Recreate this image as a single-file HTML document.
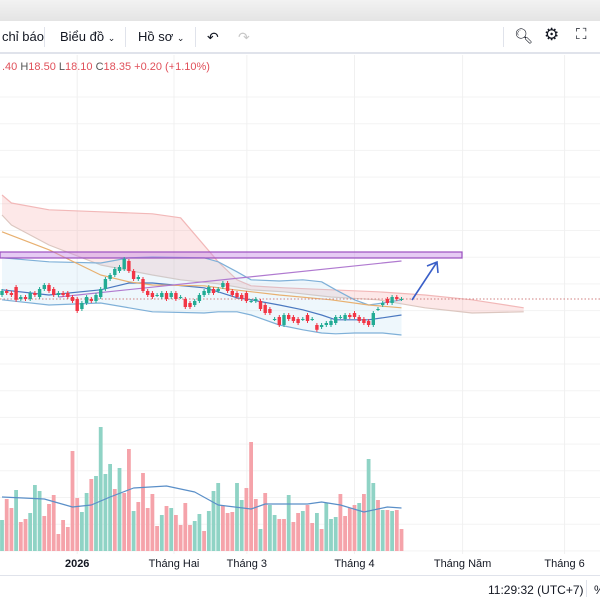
<!DOCTYPE html>
<html><head><meta charset="utf-8"><style>
body{margin:0;width:600px;height:600px;overflow:hidden;background:#fff;font-family:"Liberation Sans","Noto Sans CJK SC",sans-serif}
#topbar{position:absolute;left:0;top:0;width:600px;height:21px;background:linear-gradient(#f2f2f2,#e4e4e4)}
#toolbar{position:absolute;left:0;top:21px;width:600px;height:31px;background:#fff;border-bottom:2px solid #e0e3eb;font-size:13px;color:#131722}
.tb{position:absolute;top:8px}
.sep{position:absolute;top:6px;width:1px;height:20px;background:#e0e3eb}
#legend{position:absolute;left:2px;top:61px;font-size:11px;color:#555}
#legend span{color:#e0505a}
#bottom{position:absolute;left:0;top:575px;width:600px;height:25px;border-top:1px solid #e0e3eb;font-size:12px;color:#131722}
</style></head><body>
<div id="topbar"></div>
<div id="toolbar">
<span class="tb" style="left:2px">chỉ báo</span>
<div class="sep" style="left:44px"></div>
<span class="tb" style="left:60px">Biểu đồ <small style="font-size:9px">⌄</small></span>
<div class="sep" style="left:125px"></div>
<span class="tb" style="left:138px">Hồ sơ <small style="font-size:9px">⌄</small></span>
<div class="sep" style="left:195px"></div>
<span class="tb" style="left:207px;font-size:14px">↶</span>
<span class="tb" style="left:238px;font-size:14px;color:#c8c8c8">↷</span>
<div class="sep" style="left:503px"></div>
<span class="tb" style="left:514px;font-size:15px;top:6px">🔍︎</span>
<span class="tb" style="left:544px;font-size:17px;top:4px">⚙︎</span>
<span class="tb" style="left:576px;font-size:15px;top:5px">⛶</span>
</div>
<div id="legend"><span>.40</span> H<span>18.50</span> L<span>18.10</span> C<span>18.35</span> <span>+0.20 (+1.10%)</span></div>
<svg id="chart" width="600" height="520" style="position:absolute;left:0;top:55px" viewBox="0 55 600 520"></svg>
<div id="bottom">
<span style="position:absolute;left:488px;top:7px">11:29:32 (UTC+7)</span>
<div style="position:absolute;left:586px;top:4px;width:1px;height:17px;background:#e0e3eb"></div>
<span style="position:absolute;left:594px;top:7px">%</span>
</div>
<script>
const opens=[18.45,18.55,18.5,18.65,18.35,18.4,18.35,18.5,18.4,18.6,18.7,18.6,18.45,18.5,18.5,18.4,18.35,18.1,18.25,18.35,18.3,18.4,18.6,18.85,18.95,19.05,19.1,19.3,19.05,18.85,18.85,18.55,18.5,18.45,18.4,18.5,18.4,18.5,18.4,18.35,18.25,18.2,18.3,18.45,18.5,18.6,18.55,18.65,18.75,18.55,18.5,18.45,18.5,18.3,18.3,18.3,18.2,18.1,17.85,17.9,17.7,17.95,17.9,17.85,17.85,17.95,17.85,17.7,17.65,17.7,17.7,17.75,17.9,17.85,17.95,18.0,17.9,17.85,17.8,17.7,18.1,18.2,18.35,18.25,18.4,18.35];
const closes=[18.55,18.5,18.45,18.33,18.4,18.35,18.5,18.45,18.6,18.7,18.55,18.45,18.5,18.45,18.4,18.3,18.05,18.25,18.4,18.3,18.45,18.6,18.85,18.95,19.1,19.15,19.35,19.05,18.85,18.9,18.55,18.45,18.4,18.45,18.5,18.35,18.5,18.35,18.4,18.15,18.15,18.3,18.45,18.55,18.65,18.5,18.6,18.75,18.55,18.45,18.4,18.35,18.3,18.3,18.35,18.1,18.0,18.0,17.85,17.7,17.95,17.85,17.8,17.75,17.85,17.8,17.85,17.58,17.7,17.75,17.8,17.9,17.9,17.95,17.9,17.9,17.8,17.75,17.7,18.0,18.1,18.25,18.25,18.4,18.35,18.35];
const volumes=[31,52,43,61,29,32,38,66,60,35,47,56,17,31,24,100,53,39,58,72,75,124,77,87,62,83,58,102,40,49,78,43,57,25,36,45,43,36,26,48,26,30,37,20,40,60,68,45,38,39,68,51,63,109,52,22,58,46,36,32,32,56,29,38,40,46,28,38,22,48,32,34,57,35,43,46,48,57,92,68,51,41,41,40,41,22];
const volUp=[1,0,0,1,0,0,1,1,1,0,0,0,0,0,0,0,0,1,1,0,1,1,1,1,0,1,0,0,1,0,0,0,0,0,1,0,1,0,0,0,0,1,1,0,1,1,1,0,0,0,1,1,0,0,0,1,0,1,1,0,0,1,0,0,1,0,0,1,0,1,1,1,0,0,0,0,1,0,1,1,0,1,0,1,0,0];
const bbIdx=[0,10,21,27,32,43,46,50,53,59,64,68,71,75,78,81,85];
const bbUpper=[19.38,19.28,19.25,19.38,19.4,19.38,19.28,19.03,18.83,18.8,18.83,18.78,18.58,18.33,18.2,18.25,18.33];
const bbMid=[18.58,18.45,18.58,18.75,18.75,18.63,18.53,18.38,18.33,18.2,18.08,17.95,17.83,17.83,17.83,17.88,17.95];
const bbLower=[18.33,18.2,18.25,18.13,18.03,18.0,18.03,18.03,17.95,17.7,17.58,17.5,17.48,17.5,17.5,17.5,17.45];
const cloudIdx=[0,2,10,21,32,38,42,46,50,53,60,70,80,90,100,111];
const spanA=[20.95,20.75,20.58,20.53,20.48,20.38,19.83,19.28,18.83,18.68,18.63,18.58,18.53,18.45,18.33,18.13];
const spanB=[20.45,20.2,19.7,19.2,18.95,18.83,18.78,18.73,18.65,18.58,18.53,18.4,18.33,18.13,18.0,18.03];
const maIdx=[0,10,21,27,32,43,48,59,70,78,85];
const maVals=[20.03,19.58,18.95,18.78,18.7,18.68,18.6,18.45,18.33,18.2,18.13];
const volMaIdx=[0,9,15,19,23,28,35,41,46,53,56,65,68,72,77,82,85];
const volMa=[54,52,44,46,54,63,65,59,46,42,47,47,49,46,39,44,43];
const xTicks=["2026","Tháng Hai","Tháng 3","Tháng 4","Tháng Năm","Tháng 6"];
const xTickIdx=[16,36.6,52.1,75,98,119.7];

const svg=document.getElementById('chart');
const NS='http://www.w3.org/2000/svg';
const X=i=>2+i*4.7;
const Y=p=>299-(p-18.35)*40;
const VY=v=>551-v;
function mk(t,a,p){const e=document.createElementNS(NS,t);for(const k in a)e.setAttribute(k,a[k]);(p||svg).appendChild(e);return e;}
for(let y=97;y<560;y+=26.7){const g=mk('line',{x1:0,x2:600,y1:y,y2:y,stroke:'#f3f3f3'});

}
xTickIdx.forEach(i=>{const g=mk('line',{x1:X(i),x2:X(i),y1:55,y2:554,stroke:'#f0f0f0'});

});
function band(idx,a,b,fill,name){let d='M'+idx.map((i,k)=>X(i)+','+Y(a[k])).join('L');for(let k=idx.length-1;k>=0;k--)d+='L'+X(idx[k])+','+Y(b[k]);const e=mk('path',{d:d+'Z',fill:fill,stroke:'none'});

}
function line(idx,v,col,w,name,yf){const e=mk('polyline',{points:idx.map((i,k)=>X(i)+','+(yf||Y)(v[k])).join(' '),fill:'none',stroke:col,'stroke-width':w,'stroke-linejoin':'round'});

}
band(cloudIdx,spanA,spanB,'rgba(244,150,150,0.22)','ichimoku-cloud');
line(cloudIdx,spanA,'#f2b8b8',1.2,'cloud-span-a');
line(cloudIdx,spanB,'#dcc7c0',1.2,'cloud-span-b');
band(bbIdx,bbUpper,bbLower,'rgba(170,215,240,0.2)','bollinger-fill');
line(bbIdx,bbUpper,'#7fb0d8',1.2,'bollinger-upper');
line(bbIdx,bbLower,'#7fb0d8',1.2,'bollinger-lower');
line(bbIdx,bbMid,'#4a78c0',1.2,'bollinger-basis');
line(maIdx,maVals,'#e8b070',1.2,'moving-average');
let r=mk('rect',{x:0,y:252,width:462,height:6,fill:'rgba(200,140,230,0.45)',stroke:'#9b4fc0','stroke-width':1.2});


let tl=mk('line',{x1:X(12),y1:Y(18.4),x2:X(85),y2:Y(19.3),stroke:'#b07ad0','stroke-width':1.2});


let pl=mk('line',{x1:0,x2:600,y1:Y(closes[closes.length-1]),y2:Y(closes[closes.length-1]),stroke:'#d08080','stroke-dasharray':'1.5 2','stroke-width':1});


opens.forEach((o,i)=>{const c=closes[i];const up=c>=o;const col=up?'#22ab94':'#f23645';const x=X(i);
const hi=Math.max(o,c)+0.05,lo=Math.min(o,c)-0.05;
const g=mk('g',{});


mk('line',{x1:x,x2:x,y1:Y(hi),y2:Y(lo),stroke:col,'stroke-width':1},g);
mk('rect',{x:x-1.7,y:Y(Math.max(o,c)),width:3.4,height:Math.max(1,Math.abs(Y(o)-Y(c))),fill:col},g);});
volumes.forEach((v,i)=>{const b=mk('rect',{x:X(i)-1.9,y:VY(v),width:3.8,height:v,fill:volUp[i]?'#8fd3c5':'#f5a3aa'});

});
line(volMaIdx,volMa,'#5a8fc8',1.2,'volume-ma',VY);
let ar=mk('path',{d:'M412,300 L437,262 M427,266 L437,262 L438,273',fill:'none',stroke:'#3a5fc8','stroke-width':1.6});


xTicks.forEach((t,k)=>{const e=mk('text',{x:X(xTickIdx[k]),y:567,'font-size':11,'text-anchor':'middle',fill:'#131722','font-weight':k==0?'bold':'normal','font-family':'Liberation Sans, sans-serif'});e.textContent=t;

});
</script>
</body></html>
